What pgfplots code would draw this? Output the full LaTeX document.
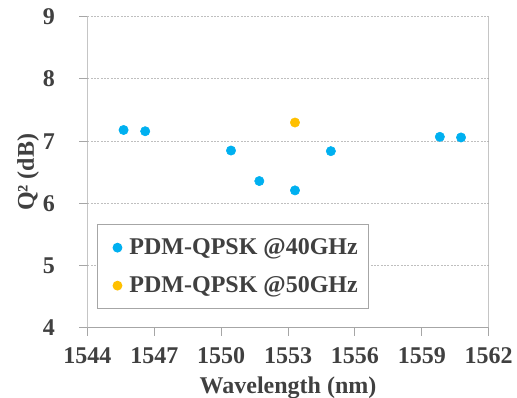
\documentclass[border=0pt]{standalone}
\usepackage{pgfplots}
\pgfplotsset{compat=1.18}
\usepackage{fontspec}
\setmainfont{Liberation Serif}[BoldFont={Liberation Serif Bold}]
\newfontfamily\tnr{Liberation Serif}[BoldFont={Liberation Serif Bold}]
\newcommand\ff{\fontsize{18}{21}\selectfont\tnr\bfseries}
\definecolor{txt}{HTML}{404040}
\definecolor{ser1}{HTML}{00B0F0}
\definecolor{ser2}{HTML}{FFC000}
\definecolor{axc}{HTML}{A6A6A6}
\definecolor{grd}{HTML}{BFBFBF}
\begin{document}
\begin{tikzpicture}[font=\ff]
\begin{axis}[
 at={(0,0)}, anchor=south west,
 scale only axis, width=300.9pt, height=233.5pt,
 xmin=1544, xmax=1562, ymin=4, ymax=9,
 xtick={1544,1547,...,1562}, ytick={4,...,9},
 /pgf/number format/1000 sep={},
 /pgf/number format/assume math mode=true,
 ticklabel style={font=\ff, text=txt},
 xticklabel style={yshift=-5pt},
 yticklabel style={xshift=-15pt},
 label style={font=\ff, text=txt},
 xlabel style={yshift=-3pt},
 ylabel style={yshift=-4pt},
 tick align=outside, tick pos=left,
 major tick length=6pt,
 tick style={draw=axc, line width=0.75pt},
 axis line style={draw=none},
 ymajorgrids, grid style={draw=grd, dash pattern=on 1.5pt off 1pt, line width=0.75pt},
 xlabel={Wavelength (nm)}, ylabel={Q² (dB)},
 legend cell align=left,
 legend image code/.code={\path[draw=none] (0pt,0pt) -- (16pt,0pt);\draw[mark size=3.3pt,#1] plot[only marks] coordinates {(8pt,0pt)};},
 legend style={at={(0.0237,0.061)}, anchor=south west, draw=axc, line width=0.75pt,
   font=\ff, text=txt,
   inner xsep=7pt, inner ysep=9.4pt, row sep=13pt,
   nodes={inner sep=1pt}},
]
\addplot[only marks, mark=*, mark size=3.5pt, mark options={draw=ser1, fill=ser1}] coordinates {
(1545.62,7.18) (1546.59,7.16) (1550.44,6.85) (1551.71,6.36) (1553.31,6.21) (1554.92,6.84) (1559.81,7.07) (1560.76,7.06)};
\addplot[only marks, mark=*, mark size=3.5pt, mark options={draw=ser2, fill=ser2}] coordinates {(1553.31,7.30)};
\legend{PDM-QPSK @40GHz, PDM-QPSK @50GHz}
\draw[axc, line width=0.75pt] (rel axis cs:0,1) -- (rel axis cs:0,0) -- (rel axis cs:1,0) -- (rel axis cs:1,1);
\end{axis}
\pgfresetboundingbox
\path[use as bounding box] (-65.6pt,-52.5pt) rectangle (322.15pt,246pt);
\end{tikzpicture}
\end{document}
